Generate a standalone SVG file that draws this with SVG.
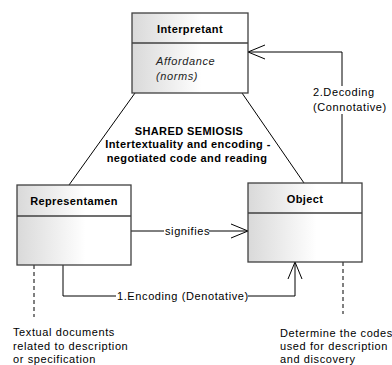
<svg xmlns="http://www.w3.org/2000/svg" width="392" height="365" viewBox="0 0 392 365">
<defs>
<linearGradient id="g" x1="0" y1="0" x2="1" y2="0">
<stop offset="0" stop-color="#d9d9d9"/>
<stop offset="0.6" stop-color="#ffffff"/>
<stop offset="1" stop-color="#ffffff"/>
</linearGradient>
<marker id="arr" viewBox="-18 -8 20 16" refX="0" refY="0" markerWidth="20" markerHeight="16" markerUnits="userSpaceOnUse" orient="auto">
<path d="M-17,-7 L0,0 L-17,7" fill="none" stroke="#000" stroke-width="1"/>
</marker>
<style>
.box{fill:url(#g);stroke:#404040;stroke-width:1.3}
.div{stroke:#404040;stroke-width:1.3}
.ln{fill:none;stroke:#000;stroke-width:1}
.dash{fill:none;stroke:#000;stroke-width:1;stroke-dasharray:4,3}
.t{font-family:"Liberation Sans",Arial,sans-serif;font-size:11px;fill:#000;letter-spacing:0.6px}
.b{font-weight:bold;text-anchor:middle;letter-spacing:0.4px}
.i{font-style:italic;fill:#222}
.bg{fill:#fff}
</style>
</defs>
<g id="connectors">
<line class="ln" x1="135" y1="93" x2="69" y2="185"/>
<line class="ln" x1="242" y1="93" x2="304" y2="183"/>
<polyline class="ln" points="342,183 342,52 248,52" marker-end="url(#arr)"/>
<rect class="bg" x="312" y="86" width="72" height="28"/>
<text class="t" x="313" y="96">2.Decoding</text>
<text class="t" x="313" y="111">(Connotative)</text>
<line class="ln" x1="131" y1="231" x2="248" y2="231" marker-end="url(#arr)"/>
<rect class="bg" x="164" y="225" width="45" height="12"/>
<text class="t" x="165" y="235">signifies</text>
<polyline class="ln" points="63,265 63,296 295,296 295,262" marker-end="url(#arr)"/>
<rect class="bg" x="116" y="290" width="132" height="12"/>
<text class="t" x="117" y="300">1.Encoding (Denotative)</text>
<line class="dash" x1="34" y1="265" x2="34" y2="317"/>
<line class="dash" x1="343" y1="262" x2="343" y2="314"/>
</g>
<g id="interpretant">
<rect class="box" x="132" y="13" width="116" height="80"/>
<line class="div" x1="132" y1="43" x2="248" y2="43"/>
<text class="t b" x="190" y="33">Interpretant</text>
<text class="t i" x="156" y="65">Affordance</text>
<text class="t i" x="156" y="80">(norms)</text>
</g>
<g id="representamen">
<rect class="box" x="17" y="185" width="114" height="80"/>
<line class="div" x1="17" y1="216" x2="131" y2="216"/>
<text class="t b" x="74" y="205">Representamen</text>
</g>
<g id="object">
<rect class="box" x="248" y="183" width="114" height="79"/>
<line class="div" x1="248" y1="213" x2="362" y2="213"/>
<text class="t b" x="305" y="203">Object</text>
</g>
<g id="shared">
<text class="t b" x="189" y="135">SHARED SEMIOSIS</text>
<text class="t b" x="188" y="148">Intertextuality and encoding -</text>
<text class="t b" x="187" y="162">negotiated code and reading</text>
</g>
<g id="note-left">
<text class="t" x="13" y="336">Textual documents</text>
<text class="t" x="13" y="349.5">related to description</text>
<text class="t" x="13" y="363">or specification</text>
</g>
<g id="note-right">
<text class="t" x="280" y="337">Determine the codes</text>
<text class="t" x="280" y="350">used for description</text>
<text class="t" x="280" y="363">and discovery</text>
</g>
</svg>
